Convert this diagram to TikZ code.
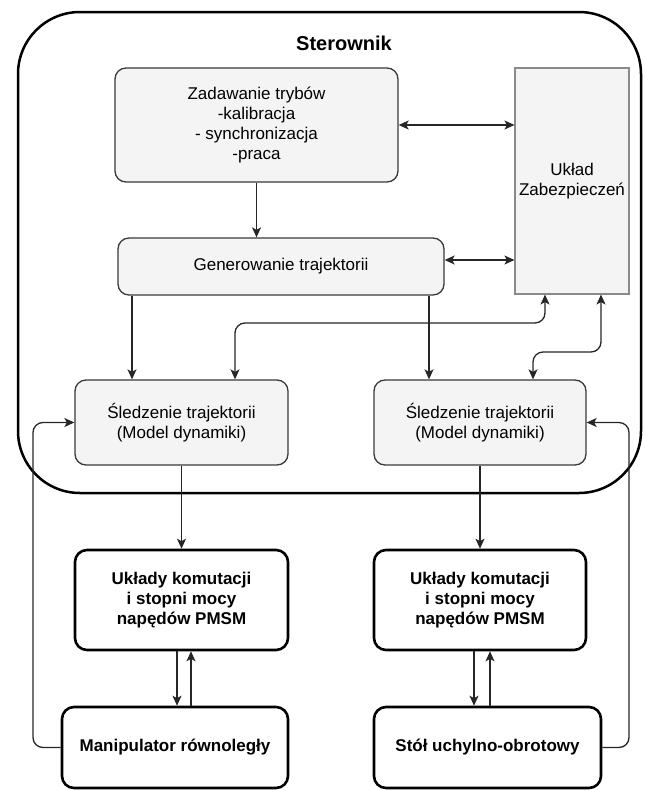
\documentclass[tikz,border=0pt]{standalone}
\usepackage{fontspec}
\setmainfont{Liberation Sans}
\usetikzlibrary{arrows.meta}
\definecolor{boxfill}{HTML}{F4F4F4}
\definecolor{boxline}{HTML}{3A3A3A}
\definecolor{ukline}{HTML}{8A8A8A}
\tikzset{
  graybox/.style={draw=boxline, line width=1.3pt, fill=boxfill, rounded corners=11pt,
    align=center, inner sep=0pt, font=\fontsize{17}{20}\selectfont},
  ukbox/.style={draw=ukline, line width=1.1pt, fill=boxfill,
    align=center, inner sep=0pt, font=\fontsize{17}{20}\selectfont},
  boldbox/.style={draw=black, line width=2.6pt, fill=white, rounded corners=12pt,
    align=center, inner sep=0pt, font=\fontsize{17}{20}\selectfont\bfseries},
  conn/.style={draw=black!85, line width=1.3pt, -{Stealth[length=10pt,width=9pt,inset=2.5pt]}},
  bconn/.style={draw=black!85, line width=1.3pt, {Stealth[length=10pt,width=9pt,inset=2.5pt]}-{Stealth[length=10pt,width=9pt,inset=2.5pt]}},
  outerbox/.style={draw=black, line width=2.5pt, rounded corners=62pt},
}
\begin{document}
\begin{tikzpicture}[x=1pt,y=-1pt]
\useasboundingbox (0,0) rectangle (645,790);
% outer controller frame
\draw[outerbox] (18,12) rectangle (641,493);
\node[font=\fontsize{20}{23}\selectfont\bfseries] (ster) at (344,43) {Sterownik};

% nodes
\node[graybox, minimum width=283pt, minimum height=114pt] (zad) at (256.5,125)
  {Zadawanie trybów\\-kalibracja\\- synchronizacja\\-praca};
\node[ukbox, minimum width=114pt, minimum height=226pt] (ukl) at (572,181)
  {Układ\\Zabezpieczeń};
\node[graybox, minimum width=326pt, minimum height=57pt] (gen) at (281,266.5)
  {Generowanie trajektorii};
\node[graybox, minimum width=213pt, minimum height=85pt] (sl) at (181.5,422.5)
  {Śledzenie trajektorii\\(Model dynamiki)};
\node[graybox, minimum width=212pt, minimum height=85pt] (sr) at (480,422.5)
  {Śledzenie trajektorii\\(Model dynamiki)};
\node[boldbox, minimum width=213pt, minimum height=100pt] (kl) at (181.5,600)
  {Układy komutacji\\i stopni mocy\\napędów PMSM};
\node[boldbox, minimum width=212pt, minimum height=100pt] (kr) at (480,600)
  {Układy komutacji\\i stopni mocy\\napędów PMSM};
\node[boldbox, minimum width=226pt, minimum height=81pt] (ml) at (175,747.5)
  {Manipulator równoległy};
\node[boldbox, minimum width=227pt, minimum height=81pt] (mr) at (487.5,747.5)
  {Stół uchylno-obrotowy};

% helper coordinates
\coordinate (xa) at (132,0);
\coordinate (xb) at (429,0);
\coordinate (xc) at (545,0);
\coordinate (xd) at (235,0);
\coordinate (xe) at (601,0);
\coordinate (xf) at (533,0);
\coordinate (xg) at (177,0);
\coordinate (xh) at (191,0);
\coordinate (xi) at (474,0);
\coordinate (xj) at (490,0);
\coordinate (ya) at (0,323);
\coordinate (yb) at (0,352);
\coordinate (lx) at (33,0);
\coordinate (rx) at (629,0);

% connectors
\draw[bconn] (zad.east) -- (zad.east -| ukl.west);
\draw[conn] (zad.south) -- (zad.south |- gen.north);
\draw[bconn] ([yshift=6.5pt]gen.east) -- ([yshift=6.5pt]gen.east -| ukl.west);
\draw[conn] (gen.south -| xa) -- (sl.north -| xa);
\draw[conn] (gen.south -| xb) -- (sr.north -| xb);
\draw[bconn, rounded corners=10pt] (ukl.south -| xc) -- (xc |- ya) -- (xd |- ya) -- (sl.north -| xd);
\draw[bconn, rounded corners=10pt] (ukl.south -| xe) -- (xe |- yb) -- (xf |- yb) -- (sr.north -| xf);
\draw[conn] (sl.south) -- (kl.north);
\draw[conn] (sr.south) -- (kr.north);
\draw[conn] (kl.south -| xg) -- (ml.north -| xg);
\draw[conn] (ml.north -| xh) -- (kl.south -| xh);
\draw[conn] (kr.south -| xi) -- (mr.north -| xi);
\draw[conn] (mr.north -| xj) -- (kr.south -| xj);
\draw[conn, rounded corners=10pt] (ml.west) -- (ml.west -| lx) -- (sl.west -| lx) -- (sl.west);
\draw[conn, rounded corners=10pt] (mr.east) -- (mr.east -| rx) -- (sr.east -| rx) -- (sr.east);
\end{tikzpicture}
\end{document}
